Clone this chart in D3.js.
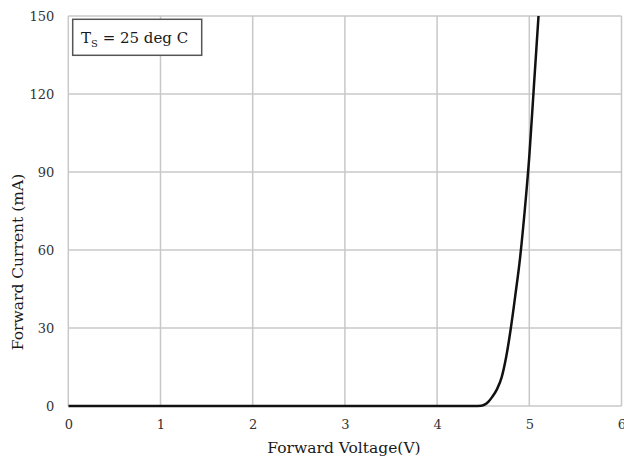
<!DOCTYPE html>
<html><head><meta charset="utf-8">
<script src="https://cdn.jsdelivr.net/npm/d3@7"></script>
<style>body{margin:0;background:#fff}</style>
</head><body>
<script>
const voltage = [0, 1, 2, 3, 3.5, 4, 4.4, 4.48, 4.52, 4.56, 4.6, 4.65, 4.7, 4.75, 4.8, 4.85, 4.9, 4.95, 5.0, 5.05, 5.1];
const current = [0, 0, 0, 0, 0, 0, 0, 0.1, 0.6, 1.8, 3.6, 6.5, 11, 19, 30, 43, 57, 75, 96, 123, 150];
const xTicks = [0, 1, 2, 3, 4, 5, 6];
const yTicks = [0, 30, 60, 90, 120, 150];
const xTitle = "Forward Voltage(V)";
const yTitle = "Forward Current (mA)";

const W = 624, H = 464;
const m = {l: 68.3, r: 2.5, t: 16, b: 58};
const svg = d3.select("body").append("svg").attr("width", W).attr("height", H);
const x = d3.scaleLinear().domain([0, 6]).range([m.l, W - m.r]);
const y = d3.scaleLinear().domain([0, 150]).range([H - m.b, m.t]);
const font = "'DejaVu Serif', serif";

// grid
svg.append("g").selectAll("line").data(xTicks).join("line")
  .attr("x1", d => x(d)).attr("x2", d => x(d)).attr("y1", y(0)).attr("y2", y(150))
  .attr("stroke", "#c8c8c8").attr("stroke-width", 1.5);
svg.append("g").selectAll("line").data(yTicks).join("line")
  .attr("y1", d => y(d)).attr("y2", d => y(d)).attr("x1", x(0)).attr("x2", x(6))
  .attr("stroke", "#c8c8c8").attr("stroke-width", 1.5);

// axes labels
const xa = svg.append("g").attr("transform", `translate(0,${y(0)})`)
  .call(d3.axisBottom(x).tickValues(xTicks).tickSize(0).tickPadding(14).tickFormat(d3.format("d")));
xa.select(".domain").remove();
xa.selectAll("text").attr("font-family", font).attr("font-size", 13).attr("fill", "#333");
const ya = svg.append("g").attr("transform", `translate(${x(0)},0)`)
  .call(d3.axisLeft(y).tickValues(yTicks).tickSize(0).tickPadding(14).tickFormat(d3.format("d")));
ya.select(".domain").remove();
ya.selectAll("text").attr("font-family", font).attr("font-size", 13).attr("fill", "#333");

// curve
svg.append("defs").append("clipPath").attr("id", "c").append("rect")
  .attr("x", x(0)).attr("y", y(150)).attr("width", x(6) - x(0)).attr("height", y(0) - y(150) + 3);
const pts = voltage.map((v, i) => [v, current[i]]);
svg.append("path").datum(pts).attr("clip-path", "url(#c)")
  .attr("d", d3.line().x(d => x(d[0])).y(d => y(d[1])).curve(d3.curveMonotoneX))
  .attr("fill", "none").attr("stroke", "#111").attr("stroke-width", 2.5);

// titles
svg.append("text").attr("x", 344).attr("y", 453).attr("text-anchor", "middle")
  .attr("font-family", font).attr("font-size", 15.5).attr("fill", "#1a1a1a").text(xTitle);
svg.append("text").attr("transform", `translate(23,262) rotate(-90)`)
  .attr("text-anchor", "middle").attr("font-family", font).attr("font-size", 15.5).attr("fill", "#1a1a1a").text(yTitle);

// annotation box
svg.append("rect").attr("x", 72.7).attr("y", 19.3).attr("width", 129).attr("height", 36)
  .attr("fill", "#fff").attr("stroke", "#555").attr("stroke-width", 1.5);
const t = svg.append("text").attr("x", 81).attr("y", 43).attr("font-family", font).attr("font-size", 15).attr("fill", "#1a1a1a");
t.append("tspan").text("T");
t.append("tspan").attr("font-size", 10).attr("dy", 4).text("S");
t.append("tspan").attr("dy", -4).text(" = 25 deg C");
</script>
</body></html>
